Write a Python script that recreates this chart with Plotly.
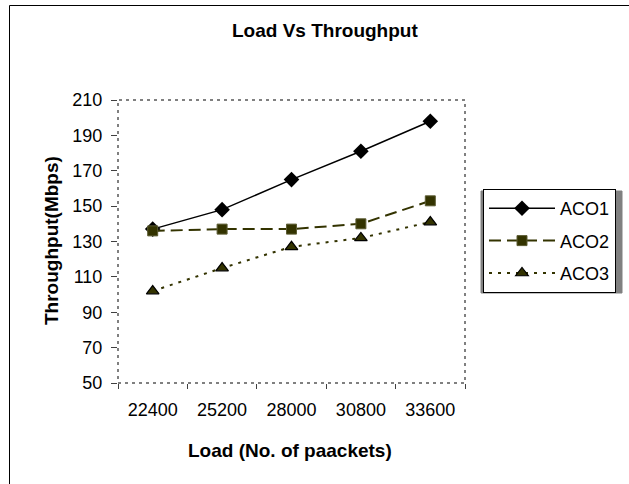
import plotly.graph_objects as go

loads = ["22400", "25200", "28000", "30800", "33600"]
aco1 = [137, 148, 165, 181, 198]
aco2 = [136, 137, 137, 140, 153]
aco3 = [102, 115, 127, 132, 141]
y_ticks = [50, 70, 90, 110, 130, 150, 170, 190, 210]

W, H = 629, 484
L, R, T, B = 118, 465, 100, 383
pw, ph = R - L, B - T

def px(x):
    return (x - L) / pw

def py(y):
    return (B - y) / ph

FONT = "Liberation Sans, Arial, sans-serif"
olive = "#333300"

fig = go.Figure()
fig.add_trace(go.Scatter(x=loads, y=aco1, name="ACO1", mode="lines+markers",
                         line=dict(color="black", width=1.5),
                         marker=dict(symbol="diamond", size=12, color="black"),
                         legendgroup="a"))
fig.add_trace(go.Scatter(x=loads, y=aco2, name="ACO2", mode="lines+markers",
                         line=dict(color=olive, width=2, dash="12px,6px"),
                         marker=dict(symbol="square", size=10, color=olive,
                                     line=dict(color="#5c5c33", width=1)),
                         legendgroup="b"))
fig.add_trace(go.Scatter(x=loads, y=aco3, name="ACO3", mode="lines+markers",
                         line=dict(color=olive, width=2, dash="3px,6px"),
                         marker=dict(symbol="triangle-up", size=11, color=olive,
                                     line=dict(color="black", width=1.2)),
                         legendgroup="c"))

shapes = [
    # outer chart border
    dict(type="rect", xref="paper", yref="paper",
         x0=px(9.5), x1=px(W + 10), y0=py(H + 10), y1=py(5.5),
         line=dict(color="black", width=1), layer="below"),
    # plot area dotted border
    dict(type="rect", xref="paper", yref="paper",
         x0=0, x1=1, y0=0, y1=1,
         line=dict(color="#808080", width=2, dash="3px,4px"), layer="above"),
    # legend shadow
    dict(type="rect", xref="paper", yref="paper",
         x0=px(481), x1=px(622), y0=py(293), y1=py(191),
         line=dict(color="#808080", width=1), fillcolor="#808080", layer="above"),
]

annotations = [
    dict(text="<b>Load Vs Throughput</b>", xref="paper", yref="paper",
         x=px(325), y=py(30), xanchor="center", yanchor="middle", showarrow=False,
         font=dict(family=FONT, size=19, color="black")),
    dict(text="<b>Load (No. of paackets)</b>", xref="paper", yref="paper",
         x=px(290), y=py(450), xanchor="center", yanchor="middle", showarrow=False,
         font=dict(family=FONT, size=19, color="black")),
    dict(text="<b>Throughput(Mbps)</b>", xref="paper", yref="paper",
         x=px(51), y=py(241), xanchor="center", yanchor="middle",
         showarrow=False, textangle=-90,
         font=dict(family=FONT, size=19, color="black")),
]

fig.update_layout(
    width=W, height=H,
    margin=dict(l=L, r=W - R, t=T, b=H - B),
    paper_bgcolor="white", plot_bgcolor="white",
    font=dict(family=FONT, size=18, color="black"),
    shapes=shapes, annotations=annotations,
    legend=dict(x=px(483), y=py(189), xanchor="left", yanchor="top",
                bgcolor="white", bordercolor="black", borderwidth=1,
                font=dict(family=FONT, size=18, color="black"),
                itemwidth=66, tracegroupgap=6, traceorder="grouped"),
)
fig.update_xaxes(type="category", range=[-0.5, 4.5], showgrid=False,
                 ticks="outside", tickson="boundaries", ticklen=5,
                 tickcolor="#404040", tickwidth=1, showline=False, zeroline=False,
                 ticklabelstandoff=14, tickfont=dict(size=18))
fig.update_yaxes(range=[50, 210], tickvals=y_ticks, showgrid=False,
                 ticks="outside", ticklen=6, tickcolor="#404040", tickwidth=1,
                 showline=False, zeroline=False, ticklabelstandoff=5,
                 tickfont=dict(size=18))

fig.write_html("out.html")
